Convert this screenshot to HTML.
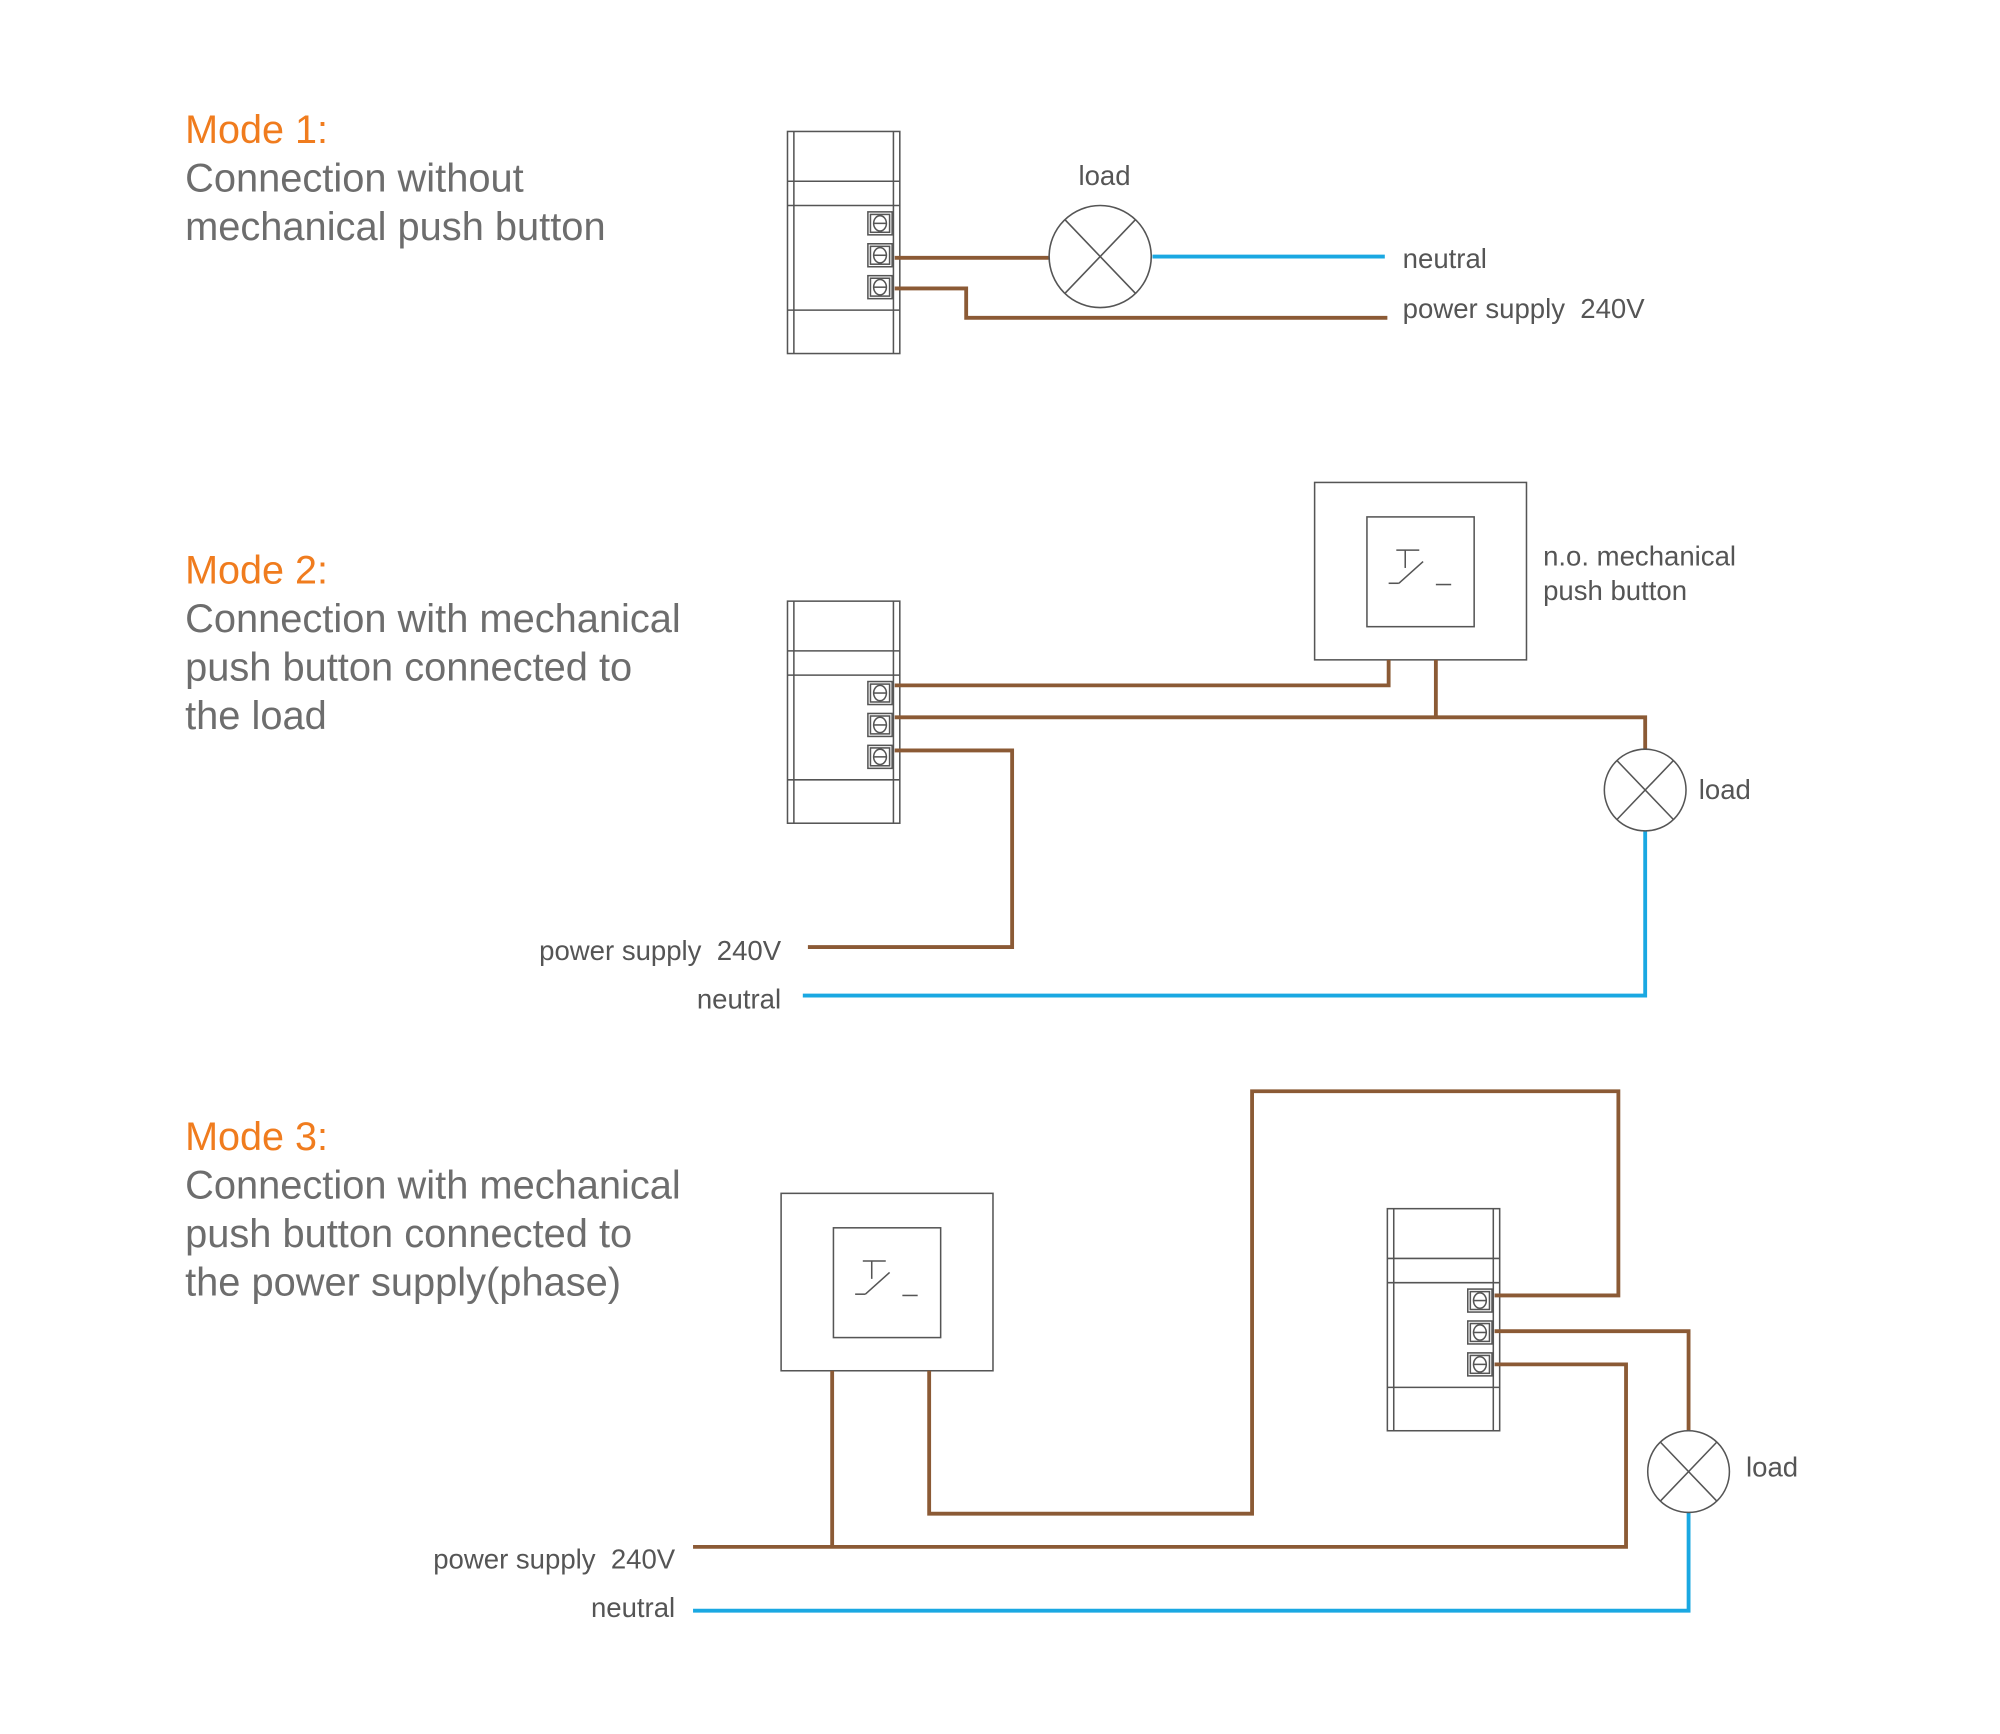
<!DOCTYPE html>
<html><head><meta charset="utf-8"><style>
html,body{margin:0;padding:0;background:#fff}
svg{display:block}
text{font-family:"Liberation Sans",Arial,sans-serif}
.t{fill:#f07c1e;font-size:31px}
.s{fill:#6d6d6d;font-size:31.2px}
.l{fill:#555;font-size:21.6px}
.b{stroke:#8b5a35;stroke-width:3;fill:none}
.u{stroke:#1aa8e2;stroke-width:3;fill:none}
.g{stroke:#555;stroke-width:1.2;fill:none}
</style></head><body>
<svg width="2000" height="1734" viewBox="0 0 1567 1358.6" preserveAspectRatio="none">
<defs>
<g id="dev">
<rect x="0" y="0" width="88" height="174" class="g"/>
<line x1="5" y1="0" x2="5" y2="174" class="g"/>
<line x1="83" y1="0" x2="83" y2="174" class="g"/>
<line x1="0" y1="39" x2="88" y2="39" class="g"/>
<line x1="0" y1="58" x2="88" y2="58" class="g"/>
<line x1="0" y1="140" x2="88" y2="140" class="g"/>
<g id="term"><rect x="63" y="63" width="19" height="18" class="g"/><rect x="65" y="65" width="15" height="14" class="g"/><ellipse cx="72.5" cy="72" rx="5" ry="6" class="g"/><line x1="67.5" y1="72" x2="77.5" y2="72" class="g"/></g>
<use href="#term" y="25"/>
<use href="#term" y="50"/>
</g>
<g id="btn">
<rect x="0" y="0" width="166" height="139" class="g"/>
<rect x="41" y="27" width="84" height="86" class="g"/>
<line x1="64" y1="53" x2="82" y2="53" class="g"/>
<line x1="71" y1="53" x2="71" y2="67" class="g"/>
<line x1="58" y1="79" x2="66" y2="79" class="g"/>
<line x1="66" y1="79" x2="85" y2="62" class="g"/>
<line x1="95" y1="80" x2="107" y2="80" class="g"/>
</g>
<g id="lamp">
<ellipse cx="0" cy="0" rx="32" ry="32" class="g"/>
<line x1="-22" y1="-23" x2="22" y2="23" class="g"/>
<line x1="22" y1="-23" x2="-22" y2="23" class="g"/>
</g>
</defs>

<!-- Mode 1 -->
<text x="145" y="112" class="t">Mode 1:</text>
<text x="145" y="150" class="s">Connection without</text>
<text x="145" y="188" class="s">mechanical push button</text>
<use href="#dev" x="617" y="103"/>
<line x1="701" y1="202" x2="822" y2="202" class="b"/>
<polyline points="701,226 757,226 757,249 1087,249" class="b"/>
<line x1="903" y1="201" x2="1085" y2="201" class="u"/>
<g transform="translate(862,201) scale(1.25)"><ellipse cx="0" cy="0" rx="32" ry="32" stroke="#555" stroke-width="1" fill="none"/><line x1="-22" y1="-23" x2="22" y2="23" stroke="#555" stroke-width="1"/><line x1="22" y1="-23" x2="-22" y2="23" stroke="#555" stroke-width="1"/></g>
<text x="845" y="145" class="l">load</text>
<text x="1099" y="210" class="l">neutral</text>
<text x="1099" y="249" class="l" xml:space="preserve">power supply  240V</text>

<!-- Mode 2 -->
<text x="145" y="457" class="t">Mode 2:</text>
<text x="145" y="495" class="s">Connection with mechanical</text>
<text x="145" y="533" class="s">push button connected to</text>
<text x="145" y="571" class="s">the load</text>
<use href="#dev" x="617" y="471"/>
<use href="#btn" x="1030" y="378"/>
<polyline points="701,537 1088,537 1088,517" class="b"/>
<polyline points="701,562 1289,562 1289,587" class="b"/>
<line x1="1125" y1="517" x2="1125" y2="562" class="b"/>
<polyline points="701,588 793,588 793,742 633,742" class="b"/>
<polyline points="1289,651 1289,780 629,780" class="u"/>
<use href="#lamp" x="1289" y="619"/>
<text x="1209" y="443" class="l">n.o. mechanical</text>
<text x="1209" y="470" class="l">push button</text>
<text x="1331" y="626" class="l">load</text>
<text x="612" y="752" class="l" text-anchor="end" xml:space="preserve">power supply  240V</text>
<text x="612" y="790" class="l" text-anchor="end">neutral</text>

<!-- Mode 3 -->
<text x="145" y="901" class="t">Mode 3:</text>
<text x="145" y="939" class="s">Connection with mechanical</text>
<text x="145" y="977" class="s">push button connected to</text>
<text x="145" y="1015" class="s">the power supply(phase)</text>
<use href="#btn" x="612" y="935"/>
<use href="#dev" x="1087" y="947"/>
<polyline points="1171,1015 1268,1015 1268,855 981,855 981,1186 728,1186 728,1074" class="b"/>
<polyline points="1171,1043 1323,1043 1323,1121" class="b"/>
<polyline points="1171,1069 1274,1069 1274,1212 543,1212" class="b"/>
<line x1="652" y1="1074" x2="652" y2="1212" class="b"/>
<polyline points="1323,1185 1323,1262 543,1262" class="u"/>
<use href="#lamp" x="1323" y="1153"/>
<text x="1368" y="1157" class="l">load</text>
<text x="529" y="1229" class="l" text-anchor="end" xml:space="preserve">power supply  240V</text>
<text x="529" y="1267" class="l" text-anchor="end">neutral</text>
</svg>
</body></html>
